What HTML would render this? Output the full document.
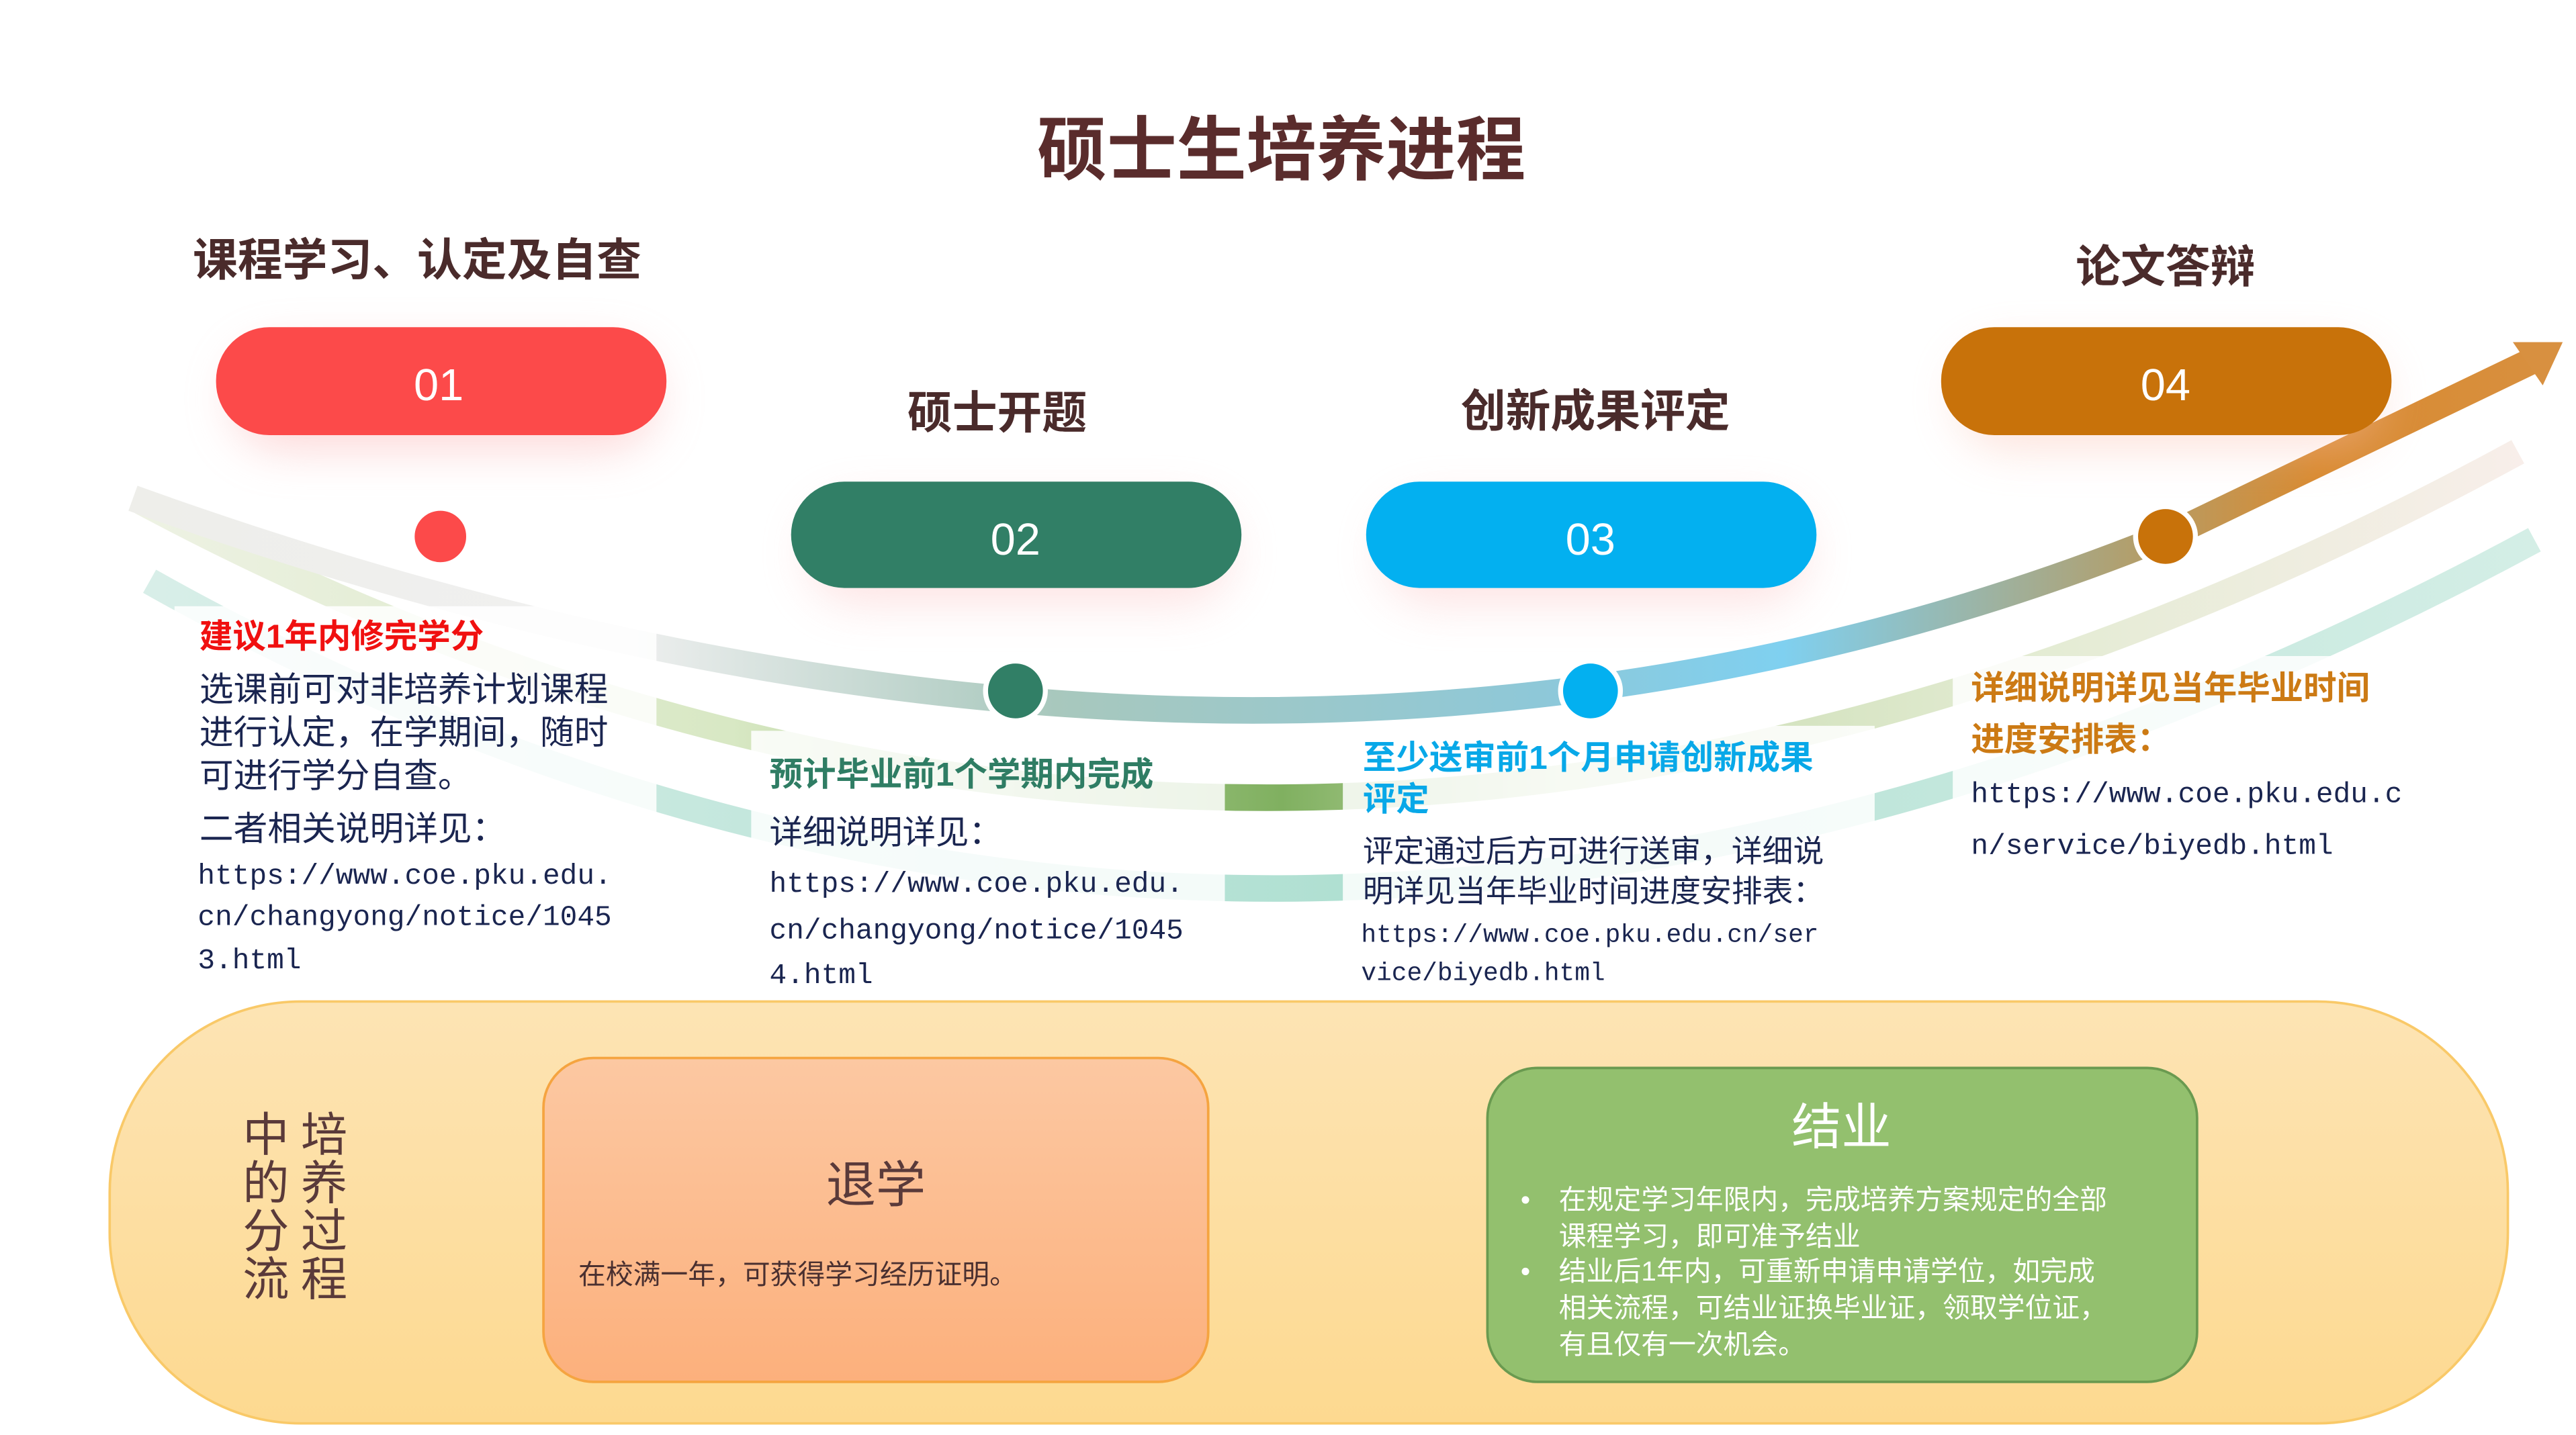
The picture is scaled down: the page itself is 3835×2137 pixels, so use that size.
<!DOCTYPE html>
<html><head><meta charset="utf-8"><style>
html,body{margin:0;padding:0;background:#fff}
svg{display:block}
text{font-family:"Liberation Sans","Noto Sans CJK SC",sans-serif}
.m text{font-family:"Liberation Mono","Noto Sans CJK SC",monospace}
</style></head><body>
<svg width="3835" height="2137" viewBox="0 0 1550 864" preserveAspectRatio="none" xmlns="http://www.w3.org/2000/svg">
<defs>
<linearGradient id="main" x1="80" y1="0" x2="1540" y2="0" gradientUnits="userSpaceOnUse">
<stop offset="0" stop-color="#eeeeea"/><stop offset="0.2" stop-color="#f0f0f0"/><stop offset="0.38" stop-color="#a8c8bd"/><stop offset="0.58" stop-color="#8ec8d8"/><stop offset="0.68" stop-color="#7fd0f0"/><stop offset="0.82" stop-color="#b0a070"/><stop offset="0.9" stop-color="#d88a30"/><stop offset="1" stop-color="#d89040"/>
</linearGradient>
<linearGradient id="g2" x1="80" y1="0" x2="1520" y2="0" gradientUnits="userSpaceOnUse">
<stop offset="0" stop-color="#eef2e4"/><stop offset="0.25" stop-color="#d8e8c4"/><stop offset="0.48" stop-color="#80b060"/><stop offset="0.6" stop-color="#c8dcb0"/><stop offset="0.8" stop-color="#e4ecd4"/><stop offset="1" stop-color="#f8eeea"/>
</linearGradient>
<linearGradient id="g3" x1="90" y1="0" x2="1530" y2="0" gradientUnits="userSpaceOnUse">
<stop offset="0" stop-color="#d8eee8"/><stop offset="0.5" stop-color="#b0e0d2"/><stop offset="1" stop-color="#d4eee6"/>
</linearGradient>
<linearGradient id="bot" x1="0" y1="603" x2="0" y2="857" gradientUnits="userSpaceOnUse">
<stop offset="0" stop-color="#fde4b4"/><stop offset="1" stop-color="#fdd990"/>
</linearGradient>
<linearGradient id="tx" x1="0" y1="637" x2="0" y2="832" gradientUnits="userSpaceOnUse">
<stop offset="0" stop-color="#fcc8a2"/><stop offset="1" stop-color="#fcb07c"/>
</linearGradient>
<filter id="sh" x="-30%" y="-60%" width="160%" height="260%"><feGaussianBlur stdDeviation="14"/></filter>
</defs>
<rect width="1550" height="864" fill="#fff"/>
<!-- bands -->
<path d="M90,350 Q770,732 1525,325" fill="none" stroke="url(#g3)" stroke-width="16"/>
<path d="M85,302 Q780,673 1515,272" fill="none" stroke="url(#g2)" stroke-width="16"/>
<path d="M80,300 Q760,545 1310,320 L1522,218" fill="none" stroke="url(#main)" stroke-width="16"/>
<polygon points="1542,206 1512,206 1530,232" fill="#d89040"/>
<!-- white text backdrops -->
<rect x="105" y="365" width="290" height="230" fill="#fff" opacity="0.85"/>
<rect x="452" y="440" width="285" height="160" fill="#fff" opacity="0.85"/>
<rect x="808" y="437" width="320" height="160" fill="#fff" opacity="0.85"/>
<rect x="1175" y="395" width="285" height="130" fill="#fff" opacity="0.85"/>
<!-- pill shadows -->
<rect x="140" y="210" width="255" height="60" rx="30" fill="#fbb0b0" opacity="0.5" filter="url(#sh)"/>
<rect x="486" y="303" width="255" height="60" rx="30" fill="#fbc0c0" opacity="0.45" filter="url(#sh)"/>
<rect x="832" y="303" width="255" height="60" rx="30" fill="#fbc0c0" opacity="0.45" filter="url(#sh)"/>
<rect x="1178" y="210" width="255" height="60" rx="30" fill="#fbc0b0" opacity="0.45" filter="url(#sh)"/>
<!-- pills -->
<rect x="130" y="197" width="271" height="65" rx="32" fill="#fc4a4a"/>
<rect x="476" y="290" width="271" height="64" rx="32" fill="#317f66"/>
<rect x="822" y="290" width="271" height="64" rx="32" fill="#03b0f0"/>
<rect x="1168" y="197" width="271" height="65" rx="32" fill="#c8720a"/>
<g fill="#fff" font-size="27" text-anchor="middle">
<text x="264" y="241">01</text><text x="611" y="334">02</text><text x="957" y="334">03</text><text x="1303" y="241">04</text>
</g>
<!-- circles -->
<circle cx="265" cy="323" r="17" fill="#fc4a4a" stroke="#fff" stroke-width="3"/>
<circle cx="611" cy="416" r="18" fill="#317f66" stroke="#fff" stroke-width="3"/>
<circle cx="957" cy="416" r="18" fill="#03b0f0" stroke="#fff" stroke-width="3"/>
<circle cx="1303" cy="323" r="18" fill="#c8720a" stroke="#fff" stroke-width="3"/>
<!-- titles -->
<text x="771" y="105" font-size="42" font-weight="bold" fill="#5a2c2c" text-anchor="middle">硕士生培养进程</text>
<g font-size="27" font-weight="bold" fill="#4a2b2b" text-anchor="middle">
<text x="251" y="166">课程学习、认定及自查</text>
<text x="1303" y="170">论文答辩</text>
<text x="600" y="258">硕士开题</text>
<text x="960" y="257">创新成果评定</text>
</g>
<!-- block 1 -->
<text x="120" y="390" font-size="20" font-weight="bold" fill="#f01010">建议1年内修完学分</text>
<g font-size="20.5" fill="#1a2550">
<text x="120" y="422">选课前可对非培养计划课程</text>
<text x="120" y="448">进行认定，在学期间，随时</text>
<text x="120" y="474">可进行学分自查。</text>
<text x="120" y="506">二者相关说明详见：</text>
</g>
<g class="m" font-size="17.3" fill="#1a2550">
<text x="119" y="532">https://www.coe.pku.edu.</text>
<text x="119" y="557">cn/changyong/notice/1045</text>
<text x="119" y="583">3.html</text>
</g>
<!-- block 2 -->
<text x="463" y="473" font-size="20" font-weight="bold" fill="#2f7d64">预计毕业前1个学期内完成</text>
<text x="463" y="508" font-size="20" fill="#1a2550">详细说明详见：</text>
<g class="m" font-size="17.3" fill="#1a2550">
<text x="463" y="537">https://www.coe.pku.edu.</text>
<text x="463" y="565">cn/changyong/notice/1045</text>
<text x="463" y="592">4.html</text>
</g>
<!-- block 3 -->
<g font-size="20" font-weight="bold" fill="#08a8e8">
<text x="820" y="463">至少送审前1个月申请创新成果</text>
<text x="820" y="488">评定</text>
</g>
<g font-size="18.5" fill="#1a2550">
<text x="820" y="519">评定通过后方可进行送审，详细说</text>
<text x="820" y="543">明详见当年毕业时间进度安排表：</text>
</g>
<g class="m" font-size="15.3" fill="#1a2550">
<text x="819" y="567">https://www.coe.pku.edu.cn/ser</text>
<text x="819" y="590">vice/biyedb.html</text>
</g>
<!-- block 4 -->
<g font-size="20" font-weight="bold" fill="#cc7a14">
<text x="1186" y="421">详细说明详见当年毕业时间</text>
<text x="1186" y="452">进度安排表：</text>
</g>
<g class="m" font-size="17.3" fill="#1a2550">
<text x="1186" y="483">https://www.coe.pku.edu.c</text>
<text x="1186" y="514">n/service/biyedb.html</text>
</g>
<!-- bottom -->
<rect x="66" y="603" width="1443" height="254" rx="115" fill="url(#bot)" stroke="#f9c968" stroke-width="1.5"/>
<g font-size="28" fill="#5a3a3a" text-anchor="middle">
<text x="160" y="693">中</text><text x="160" y="722">的</text><text x="160" y="751">分</text><text x="160" y="780">流</text>
<text x="195" y="693">培</text><text x="195" y="722">养</text><text x="195" y="751">过</text><text x="195" y="780">程</text>
</g>
<rect x="327" y="637" width="400" height="195" rx="30" fill="url(#tx)" stroke="#f5a440" stroke-width="1.5"/>
<text x="527" y="724" font-size="30" fill="#5a3a3a" text-anchor="middle">退学</text>
<text x="348" y="773" font-size="16.5" fill="#4a3030">在校满一年，可获得学习经历证明。</text>
<rect x="895" y="643" width="427" height="189" rx="30" fill="#93c06e" stroke="#6a9a50" stroke-width="1.5"/>
<text x="1108" y="689" font-size="30" fill="#fff" text-anchor="middle">结业</text>
<g font-size="16.5" fill="#fff">
<text x="915" y="728">•</text><text x="938" y="728">在规定学习年限内，完成培养方案规定的全部</text>
<text x="938" y="750">课程学习，即可准予结业</text>
<text x="915" y="771">•</text><text x="938" y="771">结业后1年内，可重新申请申请学位，如完成</text>
<text x="938" y="793">相关流程，可结业证换毕业证，领取学位证，</text>
<text x="938" y="815">有且仅有一次机会。</text>
</g>
</svg>
</body></html>
